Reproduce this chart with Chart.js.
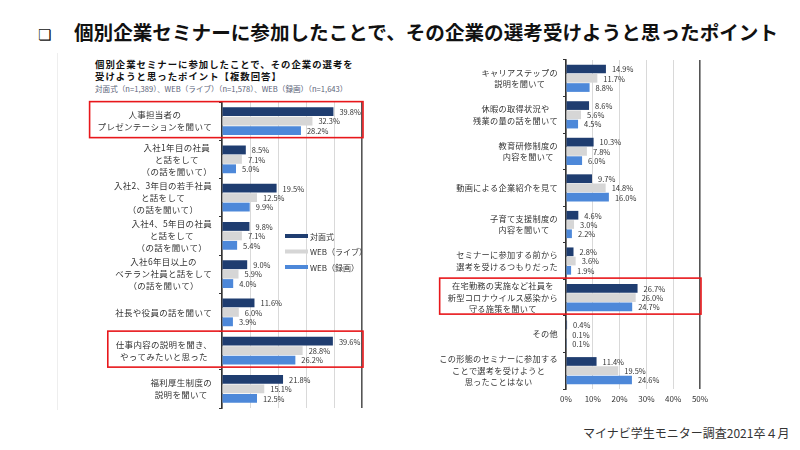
<!DOCTYPE html>
<html><head><meta charset="utf-8">
<script src="https://cdn.jsdelivr.net/npm/chart.js@4.4.0/dist/chart.umd.min.js"></script>
<style>
body{margin:0;width:800px;height:450px;background:#fff;position:relative;overflow:hidden;font-family:"Noto Sans CJK JP",sans-serif;}
#title{position:absolute;left:38px;top:18px;font-size:19.6px;font-weight:bold;color:#111;white-space:nowrap;line-height:28px;}
#title .box{font-family:"DejaVu Sans";font-size:15px;font-weight:normal;display:inline-block;width:36px;}
#panel{position:absolute;left:57px;top:53px;width:1px;height:357px;background:#eee;}
#head{position:absolute;left:95px;top:58px;font-size:9.4px;font-weight:bold;color:#111;line-height:12px;white-space:nowrap;letter-spacing:1px;}
#sub{position:absolute;left:95px;top:83px;font-size:7.6px;color:#5b6378;white-space:nowrap;}
#foot{position:absolute;left:583px;top:424px;font-size:12px;color:#333;white-space:nowrap;}
canvas{position:absolute;}
#c1{left:60px;top:95px;}
#c2{left:400px;top:50px;}
</style></head>
<body>
<div id="title"><span class="box">❏</span>個別企業セミナーに参加したことで、その企業の選考受けようと思ったポイント</div>
<div id="panel"></div>
<div id="head">個別企業セミナーに参加したことで、その企業の選考を<br>受けようと思ったポイント【複数回答】</div>
<div id="sub">対面式（n=1,389）、WEB（ライブ）（n=1,578）、WEB（録画）（n=1,643）</div>
<canvas id="c1" width="320" height="325"></canvas>
<canvas id="c2" width="400" height="370"></canvas>
<div id="foot">マイナビ学生モニター調査2021卒４月</div>
<script>
const seriesNames = ['対面式', 'WEB（ライブ）', 'WEB（録画）'];
const seriesColors = ['#1f3d70', '#d6d6d6', '#4d88d9'];

const leftCategories = [
  ['人事担当者の', 'プレゼンテーションを聞いて'],
  ['入社1年目の社員', 'と話をして', '（の話を聞いて）'],
  ['入社2、3年目の若手社員', 'と話をして', '（の話を聞いて）'],
  ['入社4、5年目の社員', 'と話をして', '（の話を聞いて）'],
  ['入社6年目以上の', 'ベテラン社員と話をして', '（の話を聞いて）'],
  ['社長や役員の話を聞いて'],
  ['仕事内容の説明を聞き、', 'やってみたいと思った'],
  ['福利厚生制度の', '説明を聞いて']
];
const leftFace = [39.8, 8.5, 19.5, 9.8, 9.0, 11.6, 39.6, 21.8];
const leftLive = [32.3, 7.1, 12.5, 7.1, 5.9, 6.0, 28.8, 15.1];
const leftRec  = [28.2, 5.0, 9.9, 5.4, 4.0, 3.9, 26.2, 12.5];
const leftHighlight = [0, 6];

const rightCategories = [
  ['キャリアステップの', '説明を聞いて'],
  ['休暇の取得状況や', '残業の量の話を聞いて'],
  ['教育研修制度の', '内容を聞いて'],
  ['動画による企業紹介を見て'],
  ['子育て支援制度の', '内容を聞いて'],
  ['セミナーに参加する前から', '選考を受けるつもりだった'],
  ['在宅勤務の実施など社員を', '新型コロナウイルス感染から', '守る施策を聞いて'],
  ['その他'],
  ['この形態のセミナーに参加する', 'ことで選考を受けようと', '思ったことはない']
];
const rightFace = [14.9, 8.6, 10.3, 9.7, 4.6, 2.8, 26.7, 0.4, 11.4];
const rightLive = [11.7, 5.6, 7.8, 14.8, 3.0, 3.6, 26.0, 0.1, 19.5];
const rightRec  = [8.8, 4.5, 6.0, 16.0, 2.2, 1.9, 24.7, 0.1, 24.6];
const rightHighlight = [6];

const xTickValues = [0, 10, 20, 30, 40, 50];

const FONT = '"Noto Sans CJK JP", sans-serif';

function makeChart(id, cats, vals, highlight, opt) {
  const labelPlugin = {
    id: 'customText',
    afterDatasetsDraw(chart) {
      const ctx = chart.ctx;
      const ys = chart.scales.y;
      const area = chart.chartArea;
      ctx.save();
      // value labels
      ctx.font = '7.5px ' + FONT;
      ctx.fillStyle = '#333';
      ctx.textBaseline = 'middle';
      ctx.textAlign = 'left';
      chart.data.datasets.forEach((ds, di) => {
        const meta = chart.getDatasetMeta(di);
        meta.data.forEach((bar, i) => {
          ctx.fillText(ds.data[i].toFixed(1) + '%', bar.x + 6, bar.y + 0.5);
        });
      });
      // category labels
      ctx.font = opt.labelSize + 'px ' + FONT;
      ctx.letterSpacing = opt.spacing + 'px';
      ctx.textAlign = 'center';
      const right = area.left - opt.labelGap;
      const lh = opt.lineHeight;
      chart.data.labels.forEach((lines, i) => {
        const yc = ys.getPixelForValue(i);
        const maxW = Math.max(...lines.map(l => ctx.measureText(l).width));
        const cx = right - maxW / 2;
        lines.forEach((l, k) => {
          ctx.fillText(l, cx, yc + (k - (lines.length - 1) / 2) * lh);
        });
        if (highlight.includes(i)) {
          ctx.save();
          ctx.letterSpacing = '0px';
          ctx.strokeStyle = '#e8171b';
          ctx.lineWidth = 1.6;
          const x0 = right - maxW - 8;
          ctx.strokeRect(x0, yc - 19.5, area.right + 1 - x0, 36);
          ctx.restore();
        }
      });
      ctx.letterSpacing = '0px';
      // legend
      if (opt.legend) {
        ctx.font = '8px ' + FONT;
        ctx.textAlign = 'left';
        chart.data.datasets.forEach((ds, di) => {
          const y = area.top + 134 + di * 15.5;
          const x = area.left + 63;
          ctx.fillStyle = ds.backgroundColor;
          ctx.fillRect(x, y - 2, 23, 4);
          ctx.fillStyle = '#333';
          ctx.fillText(ds.label, x + 25, y + 0.5);
        });
      }
      ctx.restore();
    }
  };
  return new Chart(document.getElementById(id), {
    type: 'bar',
    data: {
      labels: cats,
      datasets: vals.map((v, i) => ({
        label: seriesNames[i],
        data: v,
        backgroundColor: seriesColors[i],
        borderWidth: 0,
        categoryPercentage: opt.catPct,
        barPercentage: 0.94
      }))
    },
    options: {
      indexAxis: 'y',
      responsive: false,
      animation: false,
      layout: { padding: opt.padding },
      plugins: { legend: { display: false }, tooltip: { enabled: false } },
      scales: {
        x: {
          min: 0, max: 50,
          afterBuildTicks(s) { s.ticks = xTickValues.map(v => ({ value: v })); },
          afterFit(s) { s.height = opt.xHeight; },
          border: { display: false },
          grid: {
            drawTicks: false,
            color: c => c.tick && c.tick.value === 50 ? '#555' : '#d9d9d9',
            lineWidth: c => c.tick && c.tick.value === 50 ? 1.6 : 1
          },
          ticks: {
            display: opt.xTicks,
            padding: 5,
            color: '#333',
            font: { size: 8, family: FONT },
            callback: v => v + '%'
          }
        },
        y: {
          afterFit(s) { s.width = 0; },
          border: { display: true, color: '#333', width: 1.6 },
          grid: { drawOnChartArea: false, drawTicks: true, tickLength: 3, color: '#333', offset: true },
          ticks: { display: false }
        }
      }
    },
    plugins: [labelPlugin]
  });
}

makeChart('c1', leftCategories, [leftFace, leftLive, leftRec], leftHighlight, {
  padding: { left: 162, right: 18, top: 7, bottom: 12 },
  xHeight: 0, xTicks: false, catPct: 0.74,
  labelSize: 8.5, spacing: 0.3, lineHeight: 12, labelGap: 10, legend: true
});
makeChart('c2', rightCategories, [rightFace, rightLive, rightRec], rightHighlight, {
  padding: { left: 166, right: 100, top: 10, bottom: 11 },
  xHeight: 20, xTicks: true, catPct: 0.76,
  labelSize: 8.2, spacing: 0.3, lineHeight: 11.5, labelGap: 8, legend: false
});
</script>
</body></html>
